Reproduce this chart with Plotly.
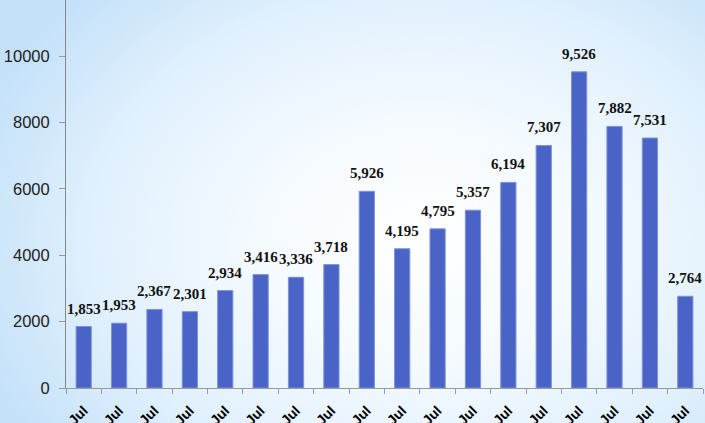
import base64
import plotly.graph_objects as go

categories = [f"c{i}" for i in range(18)]
tick_labels = ["Jul"] * 18
values = [1853, 1953, 2367, 2301, 2934, 3416, 3336, 3718, 5926, 4195,
          4795, 5357, 6194, 7307, 9526, 7882, 7531, 2764]
y_ticks = [0, 2000, 4000, 6000, 8000, 10000]

W, H = 705, 423
ML, MR, MT, MB = 66, 2, 0, 35

svg = f'''<svg xmlns="http://www.w3.org/2000/svg" width="{W}" height="{H}">
<defs><radialGradient id="g" cx="420" cy="240" r="470" gradientUnits="userSpaceOnUse"
 gradientTransform="translate(420 240) scale(1 0.75) translate(-420 -240)">
<stop offset="0" stop-color="#ffffff"/>
<stop offset="0.35" stop-color="#f4faff"/>
<stop offset="0.7" stop-color="#e0f0fd"/>
<stop offset="1" stop-color="#c4e1f9"/>
</radialGradient></defs>
<rect width="{W}" height="{H}" fill="url(#g)"/>
</svg>'''
uri = "data:image/svg+xml;base64," + base64.b64encode(svg.encode()).decode()

fig = go.Figure()
fig.add_trace(go.Bar(
    x=categories, y=values, width=0.43,
    marker=dict(color="#4a63c6", line=dict(color="#7d92dc", width=1)),
    hoverinfo="x+y",
))

for c, v in zip(categories, values):
    fig.add_annotation(
        x=c, y=v, text=f"{v:,}", showarrow=False,
        xanchor="center", yanchor="bottom", yshift=8,
        font=dict(family="Liberation Serif", size=15, color="#111111", weight="bold"),
    )

pw = W - ML - MR
ph = H - MT - MB
fig.add_layout_image(dict(
    source=uri, xref="paper", yref="paper",
    x=-ML / pw, y=1 + MT / ph, sizex=W / pw, sizey=H / ph,
    xanchor="left", yanchor="top", sizing="stretch", layer="below",
))

fig.update_layout(
    width=W, height=H,
    margin=dict(l=ML, r=MR, t=MT, b=MB, autoexpand=False),
    paper_bgcolor="white", plot_bgcolor="rgba(0,0,0,0)",
    showlegend=False,
    bargap=0.57,
    xaxis=dict(
        type="category", range=[-0.5, 17.5], automargin=False,
        tickvals=categories, ticktext=tick_labels, tickangle=-45,
        tickson="boundaries", ticks="outside", ticklen=5, tickcolor="#999999",
        ticklabelstandoff=8,
        showline=True, linecolor="#999999", linewidth=1, showgrid=False,
        tickfont=dict(family="Liberation Sans", size=14, color="#000000", weight="bold"),
    ),
    yaxis=dict(
        range=[0, 11690], tickvals=y_ticks, tickformat="d", automargin=False,
        ticks="outside", ticklen=6, tickcolor="#999999", ticklabelstandoff=6,
        showline=True, linecolor="#888888", linewidth=1,
        showgrid=False, zeroline=False,
        tickfont=dict(family="Liberation Sans", size=16.5, color="#222222"),
    ),
)

fig.write_html("out.html", config={"displayModeBar": False},
               post_script="document.body.style.margin='0';document.body.style.overflow='hidden';")
